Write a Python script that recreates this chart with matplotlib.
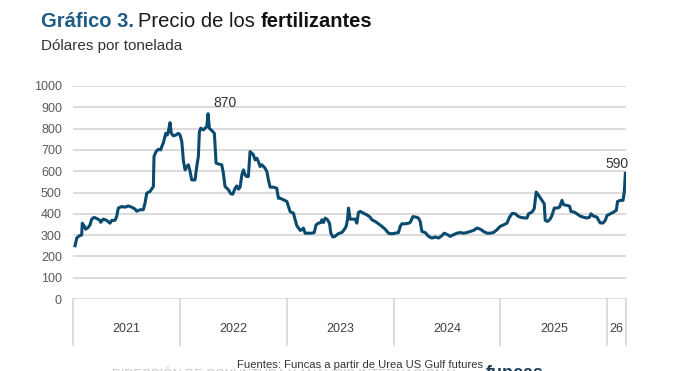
import matplotlib
matplotlib.use("Agg")
import matplotlib.pyplot as plt
import matplotlib.transforms as mtransforms

plt.rcParams['font.family'] = ['Liberation Sans', 'DejaVu Sans']

# ---- data (decimal year, USD per tonne) ----
fechas = [
    2021.019, 2021.035, 2021.059, 2021.081, 2021.087, 2021.103, 2021.119, 2021.143, 2021.159, 2021.175,
    2021.197, 2021.222, 2021.253, 2021.259, 2021.284, 2021.316, 2021.346, 2021.362, 2021.393, 2021.409,
    2021.424, 2021.456, 2021.487, 2021.518, 2021.550, 2021.581, 2021.596, 2021.627, 2021.658, 2021.674,
    2021.690, 2021.721, 2021.752, 2021.758, 2021.777, 2021.799, 2021.821, 2021.831, 2021.846, 2021.868,
    2021.883, 2021.892, 2021.908, 2021.920, 2021.939, 2021.964, 2021.986, 2022.002, 2022.018, 2022.033,
    2022.049, 2022.065, 2022.080, 2022.096, 2022.111, 2022.142, 2022.158, 2022.173, 2022.183, 2022.196,
    2022.220, 2022.236, 2022.252, 2022.264, 2022.276, 2022.299, 2022.323, 2022.339, 2022.361, 2022.392,
    2022.407, 2022.423, 2022.454, 2022.477, 2022.495, 2022.517, 2022.533, 2022.548, 2022.564, 2022.580,
    2022.595, 2022.610, 2022.626, 2022.641, 2022.657, 2022.673, 2022.688, 2022.704, 2022.720, 2022.735,
    2022.751, 2022.767, 2022.798, 2022.814, 2022.829, 2022.845, 2022.876, 2022.907, 2022.922, 2022.938,
    2022.969, 2023.001, 2023.016, 2023.032, 2023.048, 2023.063, 2023.079, 2023.095, 2023.110, 2023.126,
    2023.141, 2023.156, 2023.172, 2023.203, 2023.235, 2023.257, 2023.275, 2023.297, 2023.319, 2023.329,
    2023.344, 2023.360, 2023.381, 2023.400, 2023.413, 2023.432, 2023.453, 2023.469, 2023.493, 2023.516,
    2023.537, 2023.556, 2023.568, 2023.578, 2023.594, 2023.619, 2023.640, 2023.656, 2023.671, 2023.687,
    2023.718, 2023.750, 2023.781, 2023.797, 2023.828, 2023.859, 2023.890, 2023.921, 2023.952, 2023.984,
    2024.015, 2024.046, 2024.062, 2024.078, 2024.109, 2024.140, 2024.155, 2024.181, 2024.212, 2024.233,
    2024.249, 2024.265, 2024.296, 2024.327, 2024.359, 2024.390, 2024.420, 2024.452, 2024.474, 2024.505,
    2024.530, 2024.561, 2024.593, 2024.624, 2024.655, 2024.686, 2024.717, 2024.748, 2024.780, 2024.811,
    2024.842, 2024.874, 2024.904, 2024.935, 2024.967, 2024.998, 2025.029, 2025.061, 2025.085, 2025.110,
    2025.139, 2025.170, 2025.185, 2025.216, 2025.248, 2025.263, 2025.295, 2025.316, 2025.335, 2025.357,
    2025.389, 2025.410, 2025.419, 2025.441, 2025.466, 2025.482, 2025.504, 2025.529, 2025.553, 2025.576,
    2025.591, 2025.623, 2025.647, 2025.660, 2025.691, 2025.716, 2025.747, 2025.778, 2025.810, 2025.834,
    2025.847, 2025.872, 2025.904, 2025.919, 2025.934, 2025.960, 2025.981, 2025.997, 2026.028, 2026.059,
    2026.084, 2026.096, 2026.122, 2026.147, 2026.159, 2026.169,
]
precios = [
    250, 286, 297, 300, 356, 344, 328, 336, 348, 375,
    383, 378, 369, 360, 375, 369, 356, 369, 369, 388,
    427, 434, 431, 437, 431, 422, 412, 419, 419, 450,
    497, 505, 528, 669, 692, 703, 700, 716, 734, 778,
    770, 786, 828, 778, 766, 770, 778, 770, 740, 650,
    606, 622, 630, 598, 559, 559, 622, 669, 786, 802,
    794, 802, 809, 870, 802, 791, 778, 638, 634, 630,
    591, 528, 513, 494, 492, 520, 531, 516, 525, 583,
    606, 583, 575, 575, 692, 684, 677, 653, 661, 645,
    622, 630, 614, 598, 559, 525, 525, 520, 473, 473,
    466, 458, 434, 410, 406, 403, 372, 344, 333, 322,
    325, 333, 309, 309, 309, 312, 348, 356, 359, 372,
    359, 380, 372, 356, 309, 291, 294, 302, 309, 312,
    325, 341, 369, 427, 375, 375, 375, 356, 406, 411,
    403, 395, 384, 372, 364, 353, 341, 328, 309, 306,
    309, 312, 341, 353, 353, 356, 359, 387, 384, 380,
    364, 317, 312, 294, 286, 291, 286, 297, 309, 302,
    294, 302, 309, 312, 309, 312, 317, 322, 333, 328,
    317, 309, 309, 312, 325, 341, 348, 356, 384, 402,
    400, 387, 384, 381, 380, 400, 408, 424, 502, 487,
    463, 447, 369, 364, 376, 392, 427, 427, 431, 463,
    443, 439, 436, 411, 408, 400, 389, 384, 380, 384,
    400, 389, 384, 369, 357, 357, 369, 392, 400, 408,
    416, 458, 463, 463, 502, 590,
]
anios = ["2021", "2022", "2023", "2024", "2025", "26"]
limites_anio = [2021, 2022, 2023, 2024, 2025, 2026, 2026.175]
yticks = list(range(0, 1001, 100))
etiquetas = [(2022.264, 870, "870"), (2026.169, 590, "590")]

W, H = 676, 371
fig = plt.figure(figsize=(W / 100, H / 100), dpi=100)
fig.patch.set_facecolor("white")

x0, x1 = 73, 626
y_top, y_bot = 86, 299
ax = fig.add_axes([x0 / W, 1 - y_bot / H, (x1 - x0) / W, (y_bot - y_top) / H])

grid_c = "#D9D9D9"
for s in ax.spines.values():
    s.set_visible(False)
ax.set_ylim(0, 1000)
ax.set_xlim(limites_anio[0], limites_anio[-1])
ax.set_yticks(yticks)
ax.set_yticklabels([str(v) for v in yticks])
ax.tick_params(axis="y", length=0, pad=8, labelsize=9, labelcolor="#5A5A5A")
ax.set_xticks([])
for v in yticks:
    ax.axhline(v, color=grid_c, lw=1.3, zorder=1)

ax.plot(fechas, precios, color="#0B4A6F", lw=2.2, zorder=3, solid_joinstyle="round")

# year band
trans = mtransforms.blended_transform_factory(ax.transData, ax.transAxes)
band = -(345 - 299) / (y_bot - y_top)
for b in limites_anio:
    ax.plot([b, b], [0, band], transform=trans, color=grid_c, lw=1.3, clip_on=False)
for i, lab in enumerate(anios):
    xm = (limites_anio[i] + limites_anio[i + 1]) / 2
    ax.text(xm, -(329 - 299) / (y_bot - y_top), lab, transform=trans, ha="center",
            va="center", fontsize=9, color="#404040")

# annotations
ax.annotate(etiquetas[0][2], (etiquetas[0][0], etiquetas[0][1]), xytext=(12, 3),
            textcoords="offset points", ha="center", va="bottom", fontsize=10, color="#333333")
ax.annotate(etiquetas[1][2], (etiquetas[1][0], etiquetas[1][1]), xytext=(-6, 2),
            textcoords="offset points", ha="center", va="bottom", fontsize=10, color="#333333")

# titles
fig.canvas.draw()
r = fig.canvas.get_renderer()
tA = fig.text(41 / W, 1 - 27 / H, "Gráfico 3.", fontsize=14.5, fontweight="bold",
              color="#1D5C87", ha="left", va="baseline")
bb = tA.get_window_extent(r)
t2 = fig.text(bb.x1 / W + 4 / W, 1 - 27 / H, "Precio de los ", fontsize=14.5, color="#1A1A1A",
              ha="left", va="baseline")
bb2 = t2.get_window_extent(r)
fig.text(bb2.x1 / W, 1 - 27 / H, "fertilizantes", fontsize=14.5, fontweight="bold",
         color="#111111", ha="left", va="baseline")
fig.text(41 / W, 1 - 50 / H, "Dólares por tonelada", fontsize=11, color="#333333",
         ha="left", va="baseline")

# footer
fig.text(112 / W, 1 - 378 / H, "DIRECCIÓN DE COYUNTURA Y ANÁLISIS INTERNACIONAL", fontsize=9,
         color="#C8C8C8", ha="left", va="baseline", zorder=0)
fig.text(237 / W, 1 - 368 / H, "Fuentes: Funcas a partir de Urea US Gulf futures", fontsize=8.1,
         color="#333333", ha="left", va="baseline", zorder=2)
fig.text(486 / W, 1 - 378 / H, "funcas", fontsize=13, color="#1D3F5E", ha="left",
         va="baseline", fontweight="bold")

fig.savefig("out.png", dpi=100)
